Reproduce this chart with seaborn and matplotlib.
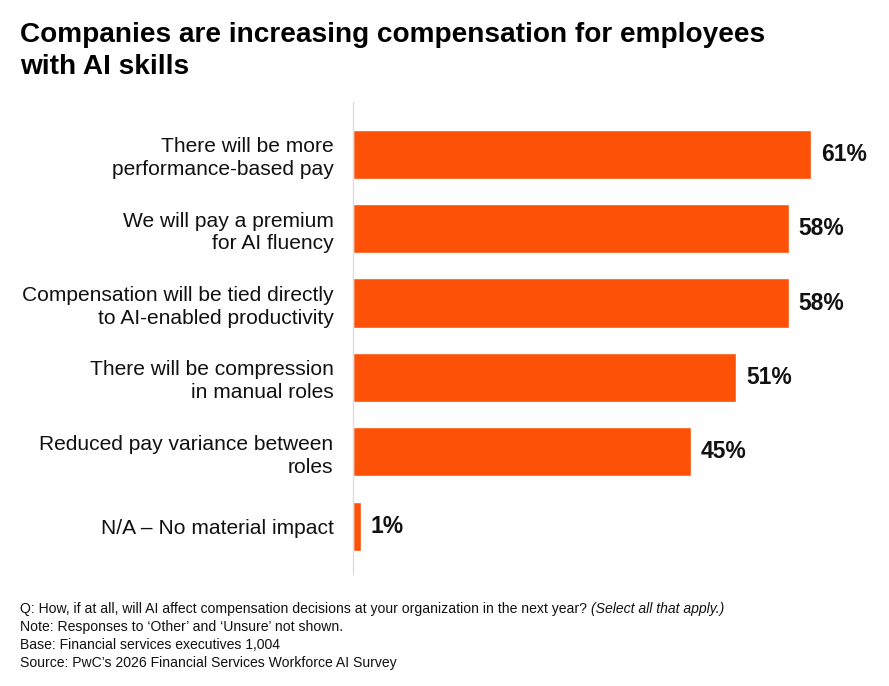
import matplotlib
matplotlib.use('Agg')
import pandas as pd
import matplotlib.pyplot as plt
import seaborn as sns

# chart data
labels = [
    "There will be more\nperformance-based pay",
    "We will pay a premium\nfor AI fluency",
    "Compensation will be tied directly\nto AI-enabled productivity",
    "There will be compression\nin manual roles",
    "Reduced pay variance between\nroles",
    "N/A \u2013 No material impact",
]
values = [61, 58, 58, 51, 45, 1]

title = "Companies are increasing compensation for employees\nwith AI skills"
notes = [
    "Note: Responses to \u2018Other\u2019 and \u2018Unsure\u2019 not shown.",
    "Base: Financial services executives 1,004",
    "Source: PwC\u2019s 2026 Financial Services Workforce AI Survey",
]

sns.set_style("white")
plt.rcParams['font.family'] = ['Liberation Sans', 'DejaVu Sans']

df = pd.DataFrame({"label": labels, "value": values})

W, H = 889, 686
fig = plt.figure(figsize=(W / 100, H / 100), dpi=100)
# axes in pixel terms: left edge 353, right 879, top 102, bottom 574
ax = fig.add_axes([353 / W, 1 - 574 / H, (879 - 353) / W, (574 - 102) / H])

sns.barplot(data=df, x="value", y="label", color="#FD5108", saturation=1,
            width=0.66, ax=ax)
ax.set_xlim(0, 70)
ax.set_ylim(5.64, -0.7)

for i, v in enumerate(values):
    ax.text(v + 1.3, i, f"{v}%", va="center", ha="left", fontsize=16.5,
            fontweight="bold", color="#111111")

ax.set_xlabel("")
ax.set_ylabel("")
ax.set_xticks([])
ax.tick_params(axis="y", length=0, pad=14, labelsize=15.1, labelcolor="#111111")
for t in ax.get_yticklabels():
    t.set_horizontalalignment("right")
    t.set_multialignment("right")
    t.set_linespacing(1.25)
for s in ["top", "right", "bottom"]:
    ax.spines[s].set_visible(False)
ax.spines["left"].set_color("#dddddd")
ax.spines["left"].set_linewidth(1)

fig.text(20 / W, 1 - 22 / H, title, ha="left", va="top", fontsize=20.2,
         fontweight="bold", color="#000000", linespacing=1.3)

y0 = 609
q1 = fig.text(20 / W, 1 - y0 / H,
              "Q: How, if at all, will AI affect compensation decisions at your organization in the next year? ",
              ha="left", va="center", fontsize=10.1, color="#111111")
fig.canvas.draw()
bb = q1.get_window_extent()
fig.text(bb.x1 / W, 1 - y0 / H, "(Select all that apply.)", ha="left",
         va="center", fontsize=10.1, style="italic", color="#111111")
for k, line in enumerate(notes):
    fig.text(20 / W, 1 - (y0 + 18 * (k + 1)) / H, line, ha="left",
             va="center", fontsize=10.1, color="#111111")

fig.savefig("out.png", dpi=100)
